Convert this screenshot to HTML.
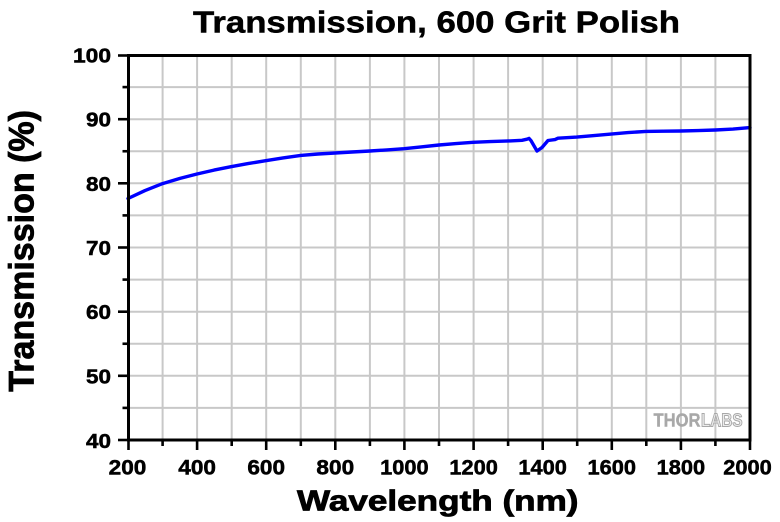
<!DOCTYPE html>
<html>
<head>
<meta charset="utf-8">
<style>
  html, body { margin: 0; padding: 0; background: #ffffff; }
  svg { display: block; }
  text { font-family: "Liberation Sans", Arial, sans-serif; font-weight: bold; fill: #000; }
  .heavy { stroke: #000; stroke-width: 0.5; }
  .heavy2 { stroke: #000; stroke-width: 0.8; }
</style>
</head>
<body>
<svg width="780" height="522" viewBox="0 0 780 522" xmlns="http://www.w3.org/2000/svg">
  <rect x="0" y="0" width="780" height="522" fill="#ffffff"/>

  <!-- Grid -->
  <g stroke="#c8c8c8" stroke-width="2">
    <line x1="162.6" y1="55" x2="162.6" y2="440"/>
    <line x1="197.1" y1="55" x2="197.1" y2="440"/>
    <line x1="231.7" y1="55" x2="231.7" y2="440"/>
    <line x1="266.2" y1="55" x2="266.2" y2="440"/>
    <line x1="300.8" y1="55" x2="300.8" y2="440"/>
    <line x1="335.3" y1="55" x2="335.3" y2="440"/>
    <line x1="369.9" y1="55" x2="369.9" y2="440"/>
    <line x1="404.4" y1="55" x2="404.4" y2="440"/>
    <line x1="439.0" y1="55" x2="439.0" y2="440"/>
    <line x1="473.6" y1="55" x2="473.6" y2="440"/>
    <line x1="508.1" y1="55" x2="508.1" y2="440"/>
    <line x1="542.7" y1="55" x2="542.7" y2="440"/>
    <line x1="577.2" y1="55" x2="577.2" y2="440"/>
    <line x1="611.8" y1="55" x2="611.8" y2="440"/>
    <line x1="646.3" y1="55" x2="646.3" y2="440"/>
    <line x1="680.9" y1="55" x2="680.9" y2="440"/>
    <line x1="715.4" y1="55" x2="715.4" y2="440"/>

    <line x1="128" y1="87.1" x2="750" y2="87.1"/>
    <line x1="128" y1="119.2" x2="750" y2="119.2"/>
    <line x1="128" y1="151.25" x2="750" y2="151.25"/>
    <line x1="128" y1="183.3" x2="750" y2="183.3"/>
    <line x1="128" y1="215.4" x2="750" y2="215.4"/>
    <line x1="128" y1="247.5" x2="750" y2="247.5"/>
    <line x1="128" y1="279.6" x2="750" y2="279.6"/>
    <line x1="128" y1="311.7" x2="750" y2="311.7"/>
    <line x1="128" y1="343.75" x2="750" y2="343.75"/>
    <line x1="128" y1="375.8" x2="750" y2="375.8"/>
    <line x1="128" y1="407.9" x2="750" y2="407.9"/>
  </g>

  <!-- Thorlabs logo -->
  <text x="653.5" y="426.5" font-size="18" textLength="47" lengthAdjust="spacingAndGlyphs" style="fill:#a8a8a8;stroke:#a8a8a8;stroke-width:0.4;">THOR</text>
  <text x="701" y="426.5" font-size="18" textLength="41.5" lengthAdjust="spacingAndGlyphs" style="fill:#ececec;stroke:#a8a8a8;stroke-width:1;">LABS</text>

  <!-- Data curve -->
  <polyline fill="none" stroke="#0000ff" stroke-width="3.4" stroke-linejoin="round" stroke-linecap="round"
    points="128,198.5 145,190.6 162.6,183.6 180,178.4 197,174 214,170.1 231,166.7 248,163.6 265.7,160.7 283,157.9 300.7,155.4 318,154 335,153 352,152 370,151 387,149.9 404,148.7 421,146.9 439,145 456,143.6 473,142.3 490,141.6 510,140.9 522,140.3 527,139.2 529,138.4 531,140.6 537,151 542,147.5 548,140.5 555,139.6 558,138.2 576.7,137.1 594,135.6 611,134.1 628,132.6 646,131.4 663,131.2 680.7,131 698,130.6 715.3,130 733,129.1 750,127.6"/>

  <!-- Axes frame -->
  <rect x="128.5" y="55.5" width="621.5" height="384.5" fill="none" stroke="#000" stroke-width="3"/>

  <!-- Y ticks -->
  <g stroke="#000" stroke-width="2.6">
    <line x1="118" y1="55.5" x2="128" y2="55.5"/>
    <line x1="118" y1="119.2" x2="128" y2="119.2"/>
    <line x1="118" y1="183.3" x2="128" y2="183.3"/>
    <line x1="118" y1="247.5" x2="128" y2="247.5"/>
    <line x1="118" y1="311.7" x2="128" y2="311.7"/>
    <line x1="118" y1="375.8" x2="128" y2="375.8"/>
    <line x1="118" y1="440" x2="128" y2="440"/>
    <line x1="122.5" y1="87.1" x2="128" y2="87.1"/>
    <line x1="122.5" y1="151.25" x2="128" y2="151.25"/>
    <line x1="122.5" y1="215.4" x2="128" y2="215.4"/>
    <line x1="122.5" y1="279.6" x2="128" y2="279.6"/>
    <line x1="122.5" y1="343.75" x2="128" y2="343.75"/>
    <line x1="122.5" y1="407.9" x2="128" y2="407.9"/>
  </g>

  <!-- X ticks -->
  <g stroke="#000" stroke-width="2.6">
    <line x1="128.5" y1="440" x2="128.5" y2="450"/>
    <line x1="197.1" y1="440" x2="197.1" y2="450"/>
    <line x1="266.2" y1="440" x2="266.2" y2="450"/>
    <line x1="335.3" y1="440" x2="335.3" y2="450"/>
    <line x1="404.4" y1="440" x2="404.4" y2="450"/>
    <line x1="473.6" y1="440" x2="473.6" y2="450"/>
    <line x1="542.7" y1="440" x2="542.7" y2="450"/>
    <line x1="611.8" y1="440" x2="611.8" y2="450"/>
    <line x1="680.9" y1="440" x2="680.9" y2="450"/>
    <line x1="750" y1="440" x2="750" y2="450"/>
    <line x1="162.6" y1="440" x2="162.6" y2="446"/>
    <line x1="231.7" y1="440" x2="231.7" y2="446"/>
    <line x1="300.8" y1="440" x2="300.8" y2="446"/>
    <line x1="369.9" y1="440" x2="369.9" y2="446"/>
    <line x1="439.0" y1="440" x2="439.0" y2="446"/>
    <line x1="508.1" y1="440" x2="508.1" y2="446"/>
    <line x1="577.2" y1="440" x2="577.2" y2="446"/>
    <line x1="646.3" y1="440" x2="646.3" y2="446"/>
    <line x1="715.4" y1="440" x2="715.4" y2="446"/>
  </g>

  <!-- Y tick labels -->
  <g font-size="20" text-anchor="end" class="heavy">
    <text x="111" y="62.5" textLength="38" lengthAdjust="spacingAndGlyphs">100</text>
    <text x="111" y="126.7" textLength="25" lengthAdjust="spacingAndGlyphs">90</text>
    <text x="111" y="190.8" textLength="25" lengthAdjust="spacingAndGlyphs">80</text>
    <text x="111" y="255" textLength="25" lengthAdjust="spacingAndGlyphs">70</text>
    <text x="111" y="319.2" textLength="25" lengthAdjust="spacingAndGlyphs">60</text>
    <text x="111" y="383.3" textLength="25" lengthAdjust="spacingAndGlyphs">50</text>
    <text x="111" y="448" textLength="25" lengthAdjust="spacingAndGlyphs">40</text>
  </g>

  <!-- X tick labels -->
  <g font-size="21" text-anchor="middle" class="heavy">
    <text x="127.5" y="474.5" textLength="37.7" lengthAdjust="spacingAndGlyphs">200</text>
    <text x="197.1" y="474.5" textLength="37.7" lengthAdjust="spacingAndGlyphs">400</text>
    <text x="266.2" y="474.5" textLength="37.7" lengthAdjust="spacingAndGlyphs">600</text>
    <text x="335.3" y="474.5" textLength="37.7" lengthAdjust="spacingAndGlyphs">800</text>
    <text x="404.4" y="474.5" textLength="48.5" lengthAdjust="spacingAndGlyphs">1000</text>
    <text x="473.6" y="474.5" textLength="48.5" lengthAdjust="spacingAndGlyphs">1200</text>
    <text x="542.7" y="474.5" textLength="48.5" lengthAdjust="spacingAndGlyphs">1400</text>
    <text x="611.8" y="474.5" textLength="48.5" lengthAdjust="spacingAndGlyphs">1600</text>
    <text x="680.9" y="474.5" textLength="48.5" lengthAdjust="spacingAndGlyphs">1800</text>
    <text x="747.5" y="474.5" textLength="48.5" lengthAdjust="spacingAndGlyphs">2000</text>
  </g>

  <!-- Title -->
  <text x="193" y="32.5" font-size="31" textLength="487" lengthAdjust="spacingAndGlyphs" class="heavy">Transmission, 600 Grit Polish</text>

  <!-- X axis title -->
  <text x="297" y="510.7" font-size="29" textLength="281.5" lengthAdjust="spacingAndGlyphs" class="heavy2">Wavelength (nm)</text>

  <!-- Y axis title -->
  <text transform="translate(33.3,391.7) rotate(-90)" x="0" y="0" font-size="35" textLength="281.7" lengthAdjust="spacingAndGlyphs" class="heavy2">Transmission (%)</text>
</svg>
</body>
</html>
